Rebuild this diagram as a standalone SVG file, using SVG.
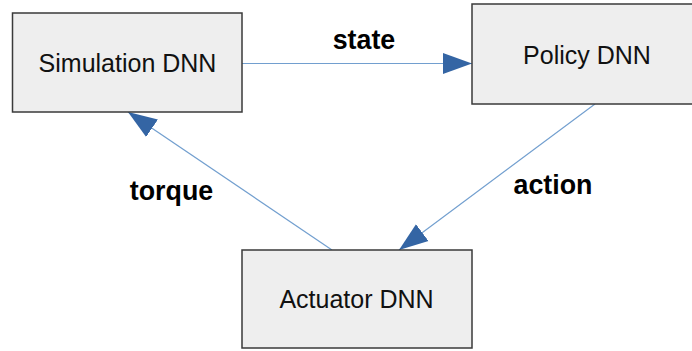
<svg xmlns="http://www.w3.org/2000/svg" width="692" height="351" viewBox="0 0 692 351">
<style>
.box{fill:#eeeeee;stroke:#3a3a3a;stroke-width:1.5}
.nl{font-family:"Liberation Sans",Arial,sans-serif;font-size:25px;fill:#111;text-anchor:middle}
.el{font-family:"Liberation Sans",Arial,sans-serif;font-size:26.8px;font-weight:bold;fill:#000;text-anchor:middle}
.cn{stroke:#729fcf;stroke-width:1.2;fill:none;marker-end:url(#ah)}
</style>
<defs>
<marker id="ah" markerUnits="userSpaceOnUse" markerWidth="30" markerHeight="22" refX="29" refY="10.5" orient="auto" viewBox="0 0 30 21">
<path d="M0,0 L29,10.5 L0,21 Z" fill="#3465a4"/>
</marker>
</defs>
<g id="connectors">
<line class="cn" x1="242" y1="63.5" x2="472" y2="63.5"/>
<line class="cn" x1="595" y1="104" x2="399" y2="250"/>
<line class="cn" x1="332" y1="250" x2="128" y2="112"/>
<text class="el" x="364" y="49">state</text>
<text class="el" x="553" y="194">action</text>
<text class="el" x="171.5" y="200">torque</text>
</g>
<g id="simulation">
<rect class="box" x="12.5" y="13" width="229.5" height="99"/>
<text class="nl" x="127.5" y="72">Simulation DNN</text>
</g>
<g id="policy">
<rect class="box" x="472" y="4" width="221" height="100"/>
<text class="nl" x="587" y="64">Policy DNN</text>
</g>
<g id="actuator">
<rect class="box" x="242" y="250" width="230" height="98"/>
<text class="nl" x="356.5" y="308">Actuator DNN</text>
</g>
</svg>
